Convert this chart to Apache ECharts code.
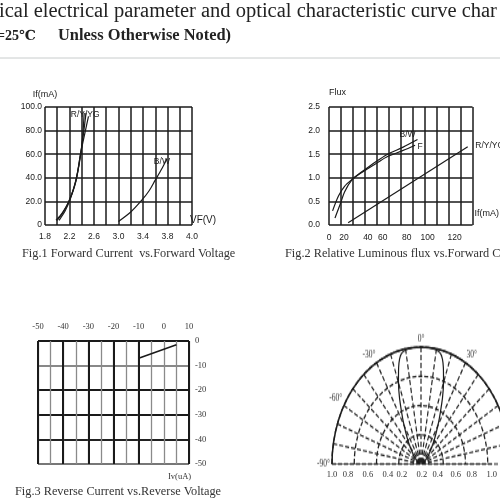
<!DOCTYPE html>
<html lang="en">
<head>
<meta charset="UTF-8">
<title>LED characteristic curves</title>
<script src="https://cdn.jsdelivr.net/npm/echarts@6/dist/echarts.min.js"></script>
<style>
  html, body { margin: 0; padding: 0; background: #fff; overflow: hidden; }
  #chart { position: absolute; left: 0; top: 0; width: 500px; height: 500px; }
  /* the polar plot in the sheet is squashed sideways, so stretch it vertically */
  #polar { position: absolute; left: 301px; top: 344px; width: 240px; height: 240px;
           transform: scaleY(1.3146); transform-origin: 50% 50%; pointer-events: none; }
</style>
</head>
<body>
<div id="chart"></div>
<div id="polar"></div>
<script>
// Fig.1 forward current (mA) vs forward voltage (V)
const fig1R  = [[1.98, 4], [2.08, 10], [2.18, 19], [2.28, 33], [2.36, 52], [2.41, 72], [2.44, 95]];
const fig1Y  = [[2.0, 4], [2.1, 11], [2.2, 21], [2.3, 37], [2.38, 60], [2.43, 78], [2.47, 95]];
const fig1YG = [[2.03, 4], [2.13, 12], [2.22, 23], [2.31, 38], [2.38, 60], [2.46, 80], [2.51, 92]];
const fig1BW = [[3.0, 3], [3.2, 11], [3.38, 21], [3.5, 29], [3.6, 38], [3.7, 47], [3.79, 56]];
const fig1XLabels = { '1.8': '1.8', '2.2': '2.2', '2.6': '2.6', '3.0': '3.0', '3.4': '3.4', '3.8': '3.8', '4.2': '4.0' };

// Fig.2 relative luminous flux vs forward current (mA)
const fig2BW   = [[3, 0.3], [8, 0.62], [13, 0.82], [19, 0.96], [26, 1.1], [33, 1.23], [41, 1.37], [49, 1.5], [62, 1.65], [74, 1.81]];
const fig2F    = [[5, 0.15], [9.5, 0.45], [13, 0.7], [19, 0.95], [26, 1.09], [33, 1.2], [41, 1.33], [49, 1.45], [62, 1.58], [72, 1.69]];
const fig2RYYG = [[16, 0.05], [116, 1.66]];
const fig2XLabels = { '0.0': '0', '12.5': '20', '32.5': '40', '45.0': '60', '65.0': '80', '82.5': '100', '105.0': '120' };

// Fig.3 reverse current vs reverse voltage
const fig3Line = [[-10, -7], [5, -1.5]];

// Fig.4 radiation diagram (angle in degrees, relative intensity)
const beamAngle = [-90, -75, -60, -50, -40, -35, -30, -26, -23, -20, -17, -15, -13, -10, -5, 0, 5, 10, 13, 15, 17, 20, 23, 26, 30, 35, 40, 50, 60, 75, 90];
const beamRel   = [0, 0.02, 0.05, 0.1, 0.19, 0.27, 0.38, 0.5, 0.62, 0.74, 0.86, 0.93, 0.97, 0.99, 1, 1, 1, 0.99, 0.97, 0.93, 0.86, 0.74, 0.62, 0.5, 0.38, 0.27, 0.19, 0.1, 0.05, 0.02, 0];
const fig4XLabels = { '-1.000': '1.0', '-0.800': '0.8', '-0.550': '0.6', '-0.300': '0.4', '-0.125': '0.2',
                      '0.125': '0.2', '0.325': '0.4', '0.550': '0.6', '0.750': '0.8', '1.000': '1.0' };

const sans = "'Liberation Sans', Arial, sans-serif";
const serif = "'Liberation Serif', 'DejaVu Serif', serif";
const ink = '#1a1a1a';

function curve(data, xi, yi, text, offset) {
  const s = { type: 'line', xAxisIndex: xi, yAxisIndex: yi, data: data, smooth: 0.3, symbol: 'none',
              lineStyle: { color: ink, width: 1.2 }, silent: true };
  if (text) {
    s.endLabel = { show: true, formatter: text, distance: 0, offset: offset, align: 'center', verticalAlign: 'middle',
                   fontSize: 8.5, fontFamily: sans, color: ink };
  }
  return s;
}

const gridLine = { show: true, lineStyle: { color: ink, width: 1.5 } };

var myChart = echarts.init(document.getElementById('chart'));
myChart.setOption({
  backgroundColor: '#fff',
  animation: false,
  title: [
    { text: 'ical electrical parameter and optical characteristic curve char', left: -1, top: 1, padding: 0,
      textStyle: { fontFamily: serif, fontSize: 20.5, fontWeight: 'normal', color: '#222' } },
    { text: '=25\u2103', left: -3, top: 29, padding: 0,
      textStyle: { fontFamily: serif, fontSize: 14, fontWeight: 'bold', color: '#222' } },
    { text: 'Unless Otherwise Noted)', left: 58, top: 28, padding: 0,
      textStyle: { fontFamily: serif, fontSize: 16.4, fontWeight: 'bold', color: '#222' } },
    { text: 'Fig.1 Forward Current  vs.Forward Voltage', left: 22, top: 248, padding: 0,
      textStyle: { fontFamily: serif, fontSize: 12.3, fontWeight: 'normal', color: '#333' } },
    { text: 'Fig.2 Relative Luminous flux vs.Forward Current', left: 285, top: 248, padding: 0,
      textStyle: { fontFamily: serif, fontSize: 12.3, fontWeight: 'normal', color: '#333' } },
    { text: 'Fig.3 Reverse Current vs.Reverse Voltage', left: 15, top: 486, padding: 0,
      textStyle: { fontFamily: serif, fontSize: 12.3, fontWeight: 'normal', color: '#333' } },
    { text: 'Iv(uA)', left: 168, top: 472, padding: 0,
      textStyle: { fontFamily: serif, fontSize: 8.5, fontWeight: 'normal', color: '#333' } }
  ],
  graphic: [
    { type: 'line', shape: { x1: 0, y1: 58, x2: 500, y2: 58 }, style: { stroke: '#c8cccc', lineWidth: 1 } }
  ],
  grid: [
    { left: 45, top: 107, width: 147, height: 118 },
    { left: 329, top: 107, width: 148, height: 118 },
    { left: 38, top: 341, width: 151, height: 123 },
    { left: 332, top: 454, width: 178, height: 10 }
  ],
  xAxis: [
    // 0: fig1
    { gridIndex: 0, type: 'value', min: 1.8, max: 4.2, interval: 0.2, name: 'VF(V)', nameGap: -2,
      nameTextStyle: { fontFamily: sans, fontSize: 10, color: ink, align: 'left', verticalAlign: 'bottom' },
      axisLine: { show: false }, axisTick: { show: false }, splitLine: gridLine,
      axisLabel: { margin: 7, fontSize: 8.5, fontFamily: sans, color: ink,
                   formatter: v => fig1XLabels[v.toFixed(1)] || '' } },
    // 1: fig2 grid lines
    { gridIndex: 1, type: 'value', min: 0, max: 120, interval: 10, position: 'top',
      axisLine: { show: false }, axisTick: { show: false }, axisLabel: { show: false }, splitLine: gridLine },
    // 2: fig2 labels
    { gridIndex: 1, type: 'value', min: 0, max: 120, interval: 2.5, position: 'bottom',
      name: 'If(mA)', nameGap: 2,
      nameTextStyle: { fontFamily: sans, fontSize: 9, color: ink, align: 'left', verticalAlign: 'bottom', padding: [0, 0, 7, 0] },
      axisLine: { show: false }, axisTick: { show: false }, splitLine: { show: false },
      axisLabel: { margin: 8, fontSize: 8.5, fontFamily: sans, color: ink, showMinLabel: true, showMaxLabel: true,
                   formatter: v => fig2XLabels[v.toFixed(1)] || '' } },
    // 3: fig3 thin lines
    { gridIndex: 2, type: 'value', min: -50, max: 10, interval: 5, position: 'bottom',
      axisLine: { show: false }, axisTick: { show: false }, axisLabel: { show: false },
      splitLine: { show: true, lineStyle: { color: '#8a8a8a', width: 1.3 } } },
    // 4: fig3 thick lines + top labels
    { gridIndex: 2, type: 'value', min: -50, max: 10, interval: 10, position: 'top',
      axisLine: { show: false }, axisTick: { show: false },
      axisLabel: { margin: 10, fontSize: 8.5, fontFamily: serif, color: '#333' },
      splitLine: { show: true, lineStyle: { color: [ink, ink, ink, ink, ink, 'rgba(0,0,0,0)', ink], width: 2 } } },
    // 5: fig4 base + radius labels
    { gridIndex: 3, type: 'value', min: -1, max: 1, interval: 0.025,
      axisLine: { show: true, lineStyle: { color: '#999', width: 1.5 } }, axisTick: { show: false }, splitLine: { show: false },
      axisLabel: { margin: 6, fontSize: 8.5, fontFamily: serif, color: '#333', showMinLabel: true, showMaxLabel: true,
                   formatter: v => fig4XLabels[v.toFixed(3)] || '' } }
  ],
  yAxis: [
    { gridIndex: 0, type: 'value', min: 0, max: 100, interval: 20, name: 'If(mA)', nameGap: 8,
      nameTextStyle: { fontFamily: sans, fontSize: 9, color: ink },
      axisLine: { show: false }, axisTick: { show: false }, splitLine: gridLine,
      axisLabel: { margin: 3, fontSize: 8.5, fontFamily: sans, color: ink,
                   formatter: v => v === 0 ? '0' : v.toFixed(1) } },
    { gridIndex: 1, type: 'value', min: 0, max: 2.5, interval: 0.5, name: 'Flux', nameGap: 10,
      nameTextStyle: { fontFamily: sans, fontSize: 9, color: ink, align: 'left' },
      axisLine: { show: false }, axisTick: { show: false }, splitLine: gridLine,
      axisLabel: { margin: 9, fontSize: 8.5, fontFamily: sans, color: ink, formatter: v => v.toFixed(1) } },
    { gridIndex: 2, type: 'value', min: -50, max: 0, interval: 10, position: 'right',
      axisLine: { show: false }, axisTick: { show: false },
      axisLabel: { margin: 6, fontSize: 8.5, fontFamily: serif, color: '#333' },
      splitLine: { show: true, lineStyle: { color: ['#777', '#222', ink, ink, '#888', ink], width: 2 } } },
    { gridIndex: 3, type: 'value', min: 0, max: 1, show: false }
  ],
  series: [
    curve(fig1R, 0, 0, 'R/Y/YG', [1, 2]),
    curve(fig1Y, 0, 0),
    curve(fig1YG, 0, 0),
    curve(fig1BW, 0, 0, 'B/W', [-5, 3]),
    curve(fig2BW, 1, 1, 'B/W', [-10, -5]),
    curve(fig2F, 1, 1, 'F', [5, 1]),
    curve(fig2RYYG, 1, 1, 'R/Y/YG', [22, -1]),
    { type: 'line', xAxisIndex: 4, yAxisIndex: 2, data: fig3Line, symbol: 'none', silent: true,
      lineStyle: { color: ink, width: 1.6 } }
  ]
});

// Fig.4 polar diagram
var polarChart = echarts.init(document.getElementById('polar'));
polarChart.setOption({
  animation: false,
  polar: { center: ['50%', '50%'], radius: 89 },
  angleAxis: {
    type: 'value', min: -90, max: 90, interval: 10, startAngle: 180, endAngle: 0, clockwise: true,
    axisLine: { show: true, lineStyle: { color: '#1a1a1a', width: 1.5 } },
    axisTick: { show: false },
    axisLabel: { margin: 2, fontSize: 7.5, fontFamily: serif, color: '#333',
                 formatter: v => (v % 30 === 0 ? v + '\u00b0' : '') },
    splitLine: { show: true, lineStyle: { color: '#222', width: 1.2, type: [4, 2] } }
  },
  radiusAxis: {
    type: 'value', min: 0, max: 1, interval: 0.25,
    axisLine: { show: false }, axisTick: { show: false }, axisLabel: { show: false },
    splitLine: { show: true, lineStyle: { color: '#222', width: 1.3, type: [4, 2] } }
  },
  series: [{
    type: 'line', coordinateSystem: 'polar', symbol: 'none', smooth: 0.3, silent: true,
    data: beamAngle.map((a, i) => [beamRel[i], a]),
    lineStyle: { color: ink, width: 1.2 }
  }]
});
</script>
</body>
</html>
